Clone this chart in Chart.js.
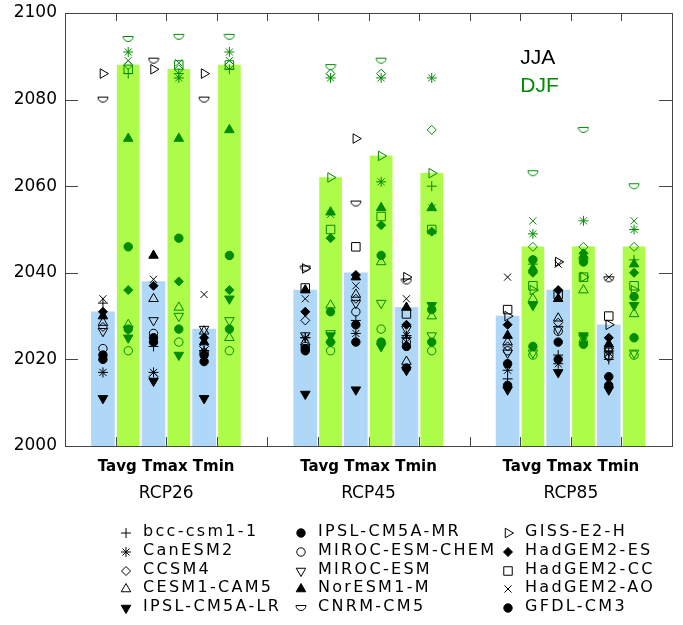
<!DOCTYPE html>
<html>
<head>
<meta charset="utf-8">
<script src="https://cdn.jsdelivr.net/npm/chart.js@4.4.0/dist/chart.umd.min.js"></script>
<style>
  html, body { margin: 0; padding: 0; background: #fff; }
  #wrap { position: relative; width: 683px; height: 625px; }
  #legend { position: absolute; left: 0; top: 0; width: 683px; height: 625px; pointer-events: none;
            font-family: "DejaVu Sans", sans-serif; font-size: 16px; color: #000; }
  .item { position: absolute; white-space: nowrap; line-height: 18px; letter-spacing: 2.3px; }
  .item canvas { position: absolute; left: -25px; top: 3px; }
</style>
</head>
<body>
<div id="wrap">
  <canvas id="chart" width="683" height="625"></canvas>
  <div id="legend"></div>
</div>
<script>
// ===== DATA =====
const scenarios = ["RCP26", "RCP45", "RCP85"];
const variables = ["Tavg", "Tmax", "Tmin"];
const yTicks = [2000, 2020, 2040, 2060, 2080, 2100];

// multi-model bars, order: RCP26 Tavg/Tmax/Tmin, RCP45 ..., RCP85 ...
const jjaBars = [2031, 2038, 2027, 2036, 2040, 2032, 2030, 2036, 2028];
const djfBars = [2088, 2087, 2088, 2062, 2067, 2063, 2046, 2046, 2046];

const modelNames = [
  "bcc-csm1-1", "CanESM2", "CCSM4", "CESM1-CAM5", "IPSL-CM5A-LR",
  "IPSL-CM5A-MR", "MIROC-ESM-CHEM", "MIROC-ESM", "NorESM1-M", "CNRM-CM5",
  "GISS-E2-H", "HadGEM2-ES", "HadGEM2-CC", "HadGEM2-AO", "GFDL-CM3"
];

// per-model years (JJA / DJF), same order as the bars; null = not shown
const jja_bcc     = [2033, 2023, 2022, 2025, 2029, 2025, 2015.5, 2021, 2020];
const djf_bcc     = [2086, 2086, 2087, 2024, 2061, 2060, 2042, 2043, 2043];
const jja_canesm  = [2017, 2017, 2022, 2025, 2026, 2025.5, 2017.5, 2019, 2021.5];
const djf_canesm  = [2091, 2085, 2091, 2085, 2085, 2085, 2049, 2052, 2050];
const jja_ccsm4   = [2027.5, 2016, 2023, 2029, 2034, 2025, 2023, 2028.5, 2020.5];
const djf_ccsm4   = [2088, 2087, 2088, 2086, 2086, 2073, 2046, 2046, 2046];
const jja_cesm    = [2028.5, 2034, 2026.5, 2024, 2035, 2019.5, 2024, 2029.5, 2022.5];
const djf_cesm    = [2028, 2032, 2025, 2032.5, 2042.5, 2030, 2034, 2036, 2030.5];
const jja_ipsllr  = [2011, 2015, 2011, 2012, 2013, 2017.5, 2013, 2017, 2013];
const djf_ipsllr  = [2025, 2021, 2034, 2025.5, 2023, 2032.5, 2032.5, 2025.5, 2032.5];
const jja_ipslmr  = [2021, 2025, 2021, 2022.5, 2028, 2023, 2019, 2024, 2016];
const djf_ipslmr  = [2046, 2048, 2044, 2031, 2044, 2031.5, 2043, 2042.5, 2034.5];
const jja_mirocch = [2022.5, 2026, 2021.5, 2023, 2031, 2024, 2022, 2026.5, 2021];
const djf_mirocch = [2022, 2024, 2022, 2022, 2027, 2022, 2021, 2024, 2021];
const jja_miroc   = [2026.5, 2029, 2027, 2025.5, 2033, 2027, 2021.5, 2027, 2022];
const djf_miroc   = [2027, 2030, 2029, 2026, 2033, 2025.5, 2021.5, 2025, 2021.5];
const jja_noresm  = [2030, 2044, 2024, 2036, 2039, 2032, 2025.5, 2034, 2023.5];
const djf_noresm  = [2071, 2071, 2073, 2054, 2055, 2055, 2041, 2044, 2042];
const jja_cnrm    = [2080, 2089, 2080, 2041, 2056, 2038, null, null, 2038.5];
const djf_cnrm    = [2094, 2094.5, 2094.5, 2087.5, 2089, null, 2063, 2073, 2060];
const jja_giss    = [2086, 2087, 2086, 2041, 2071, 2039, 2030, 2042.5, 2028];
const djf_giss    = [null, null, null, 2062, 2067, 2063, 2036, 2039, 2036];
const jja_hades   = [2031, 2037, 2025, 2031, 2039.5, 2028, 2028, 2036, 2025];
const djf_hades   = [2036, 2038, 2036, 2048, 2051, 2049.5, 2040, 2044.5, 2040];
const jja_hadcc   = [null, null, null, 2036.5, 2046, 2030.5, 2031.5, 2035, 2030];
const djf_hadcc   = [2087, 2088, 2088, 2050, 2053, 2050, 2037, 2039, 2037];
const jja_hadao   = [2034, 2038.5, 2035, 2034, 2037, 2034, 2039, 2042, 2039];
const djf_hadao   = [2089, 2088.5, 2089, 2053.5, 2061, 2055, 2052, null, 2052];
const jja_gfdl    = [2020, 2024, 2019.5, 2022, 2024, 2018, 2014, 2020, 2014];
const djf_gfdl    = [2027, 2027, 2027, 2024, 2024, 2024, 2023, 2023.5, 2025];

const modelJJA = [jja_bcc, jja_canesm, jja_ccsm4, jja_cesm, jja_ipsllr, jja_ipslmr, jja_mirocch,
  jja_miroc, jja_noresm, jja_cnrm, jja_giss, jja_hades, jja_hadcc, jja_hadao, jja_gfdl];
const modelDJF = [djf_bcc, djf_canesm, djf_ccsm4, djf_cesm, djf_ipsllr, djf_ipslmr, djf_mirocch,
  djf_miroc, djf_noresm, djf_cnrm, djf_giss, djf_hades, djf_hadcc, djf_hadao, djf_gfdl];

// ===== STYLE =====
const jjaColor = "#000000";
const djfColor = "#008c00";

const markerStyles = [
  { pointStyle: "cross", radius: 5 },
  { pointStyle: "star", radius: 5 },
  { pointStyle: "rectRot", radius: 4.5 },
  { pointStyle: "triangle", radius: 5.5 },
  { pointStyle: "triangle", radius: 5.5, rotation: 180, filled: true },
  { pointStyle: "circle", radius: 4.2, filled: true },
  { pointStyle: "circle", radius: 4.2 },
  { pointStyle: "triangle", radius: 5.5, rotation: 180 },
  { pointStyle: "triangle", radius: 5.5, filled: true },
  { pointStyle: "bowl", radius: 5 },
  { pointStyle: "triangle", radius: 5.5, rotation: 90 },
  { pointStyle: "rectRot", radius: 4.5, filled: true },
  { pointStyle: "rect", radius: 6 },
  { pointStyle: "crossRot", radius: 5 },
  { pointStyle: "circle", radius: 4.2, filled: true }
];

// half circle, flat side up (CNRM-CM5)
function makeBowl(color) {
  const c = document.createElement("canvas");
  c.width = 12; c.height = 8;
  const g = c.getContext("2d");
  g.strokeStyle = color;
  g.lineWidth = 1;
  g.beginPath();
  g.moveTo(1, 1.5);
  g.lineTo(11, 1.5);
  g.arc(6, 1.5, 5, 0, Math.PI);
  g.stroke();
  return c;
}

// bar slot on the x axis: 1,2,3 | 5,6,7 | 9,10,11
function slotX(i) { return Math.floor(i / 3) * 4 + (i % 3) + 1; }

const datasets = [
  { type: "bar", label: "JJA", data: jjaBars.map((v, i) => ({ x: slotX(i) - 0.25, y: v })),
    backgroundColor: "#afd7f7", barThickness: 23, grouped: false, order: 2 },
  { type: "bar", label: "DJF", data: djfBars.map((v, i) => ({ x: slotX(i) + 0.25, y: v })),
    backgroundColor: "#adfc4a", barThickness: 22, grouped: false, order: 2 }
];

modelNames.forEach((name, m) => {
  const st = markerStyles[m];
  [["JJA", modelJJA[m], jjaColor, -0.25], ["DJF", modelDJF[m], djfColor, 0.25]].forEach(([season, vals, color, off]) => {
    datasets.push({
      type: "scatter",
      label: name + " " + season,
      data: vals.map((v, i) => v == null ? null : { x: slotX(i) + off, y: v }).filter(Boolean),
      pointStyle: st.pointStyle === "bowl" ? makeBowl(color) : st.pointStyle,
      pointRadius: st.radius,
      pointRotation: st.rotation || 0,
      pointBorderColor: color,
      pointBackgroundColor: st.filled ? color : "rgba(0,0,0,0)",
      pointBorderWidth: 1,
      order: 1
    });
  });
});

/* ===== FRAME, INWARD TICKS, SEASON LABELS ===== */
const framePlugin = {
  id: "frame",
  beforeDatasetsDraw(chart) {
    const { ctx, chartArea: a, scales: { x, y } } = chart;
    ctx.save();
    ctx.strokeStyle = "#444";
    ctx.lineWidth = 1;
    ctx.beginPath();
    for (let i = 1; i < 12; i++) {
      const px = Math.round(x.getPixelForValue(i)) + 0.5;
      ctx.moveTo(px, a.top); ctx.lineTo(px, a.top + 8);
      ctx.moveTo(px, a.bottom); ctx.lineTo(px, a.bottom - 9);
    }
    yTicks.slice(1, -1).forEach(v => {
      const py = Math.round(y.getPixelForValue(v)) + 0.5;
      ctx.moveTo(a.left, py); ctx.lineTo(a.left + 13, py);
      ctx.moveTo(a.right, py); ctx.lineTo(a.right - 13, py);
    });
    ctx.stroke();
    ctx.restore();
  },
  afterDatasetsDraw(chart) {
    const { ctx, chartArea: a, scales: { x, y } } = chart;
    ctx.save();
    ctx.strokeStyle = "#444";
    ctx.lineWidth = 1;
    ctx.strokeRect(Math.round(a.left) + 0.5, Math.round(a.top) + 0.5,
      Math.round(a.right - a.left), Math.round(a.bottom - a.top));
    ctx.font = "21px 'Liberation Sans'";
    ctx.textBaseline = "middle";
    ctx.fillStyle = jjaColor;
    ctx.fillText("JJA", x.getPixelForValue(9), y.getPixelForValue(2089.5));
    ctx.fillStyle = djfColor;
    ctx.fillText("DJF", x.getPixelForValue(9), y.getPixelForValue(2083));
    ctx.restore();
  }
};

const groupTicks = (scale) => { scale.ticks = [2, 6, 10].map(v => ({ value: v })); };

new Chart(document.getElementById("chart"), {
  type: "bar",
  data: { datasets },
  options: {
    responsive: false,
    animation: false,
    layout: { padding: { top: 13, right: 11, bottom: 114, left: 0 } },
    plugins: { legend: { display: false }, tooltip: { enabled: false } },
    scales: {
      x: {
        type: "linear", min: 0, max: 12, offset: false, weight: 0,
        grid: { display: false, drawTicks: false }, border: { display: false },
        afterBuildTicks: groupTicks,
        afterFit: (s) => { s.height = 35; },
        ticks: {
          padding: 12, color: "#000", maxRotation: 0, autoSkip: false,
          font: { family: "DejaVu Sans", size: 15, weight: "bold" },
          callback: () => variables.join(" ")
        }
      },
      x2: {
        type: "linear", min: 0, max: 12, position: "bottom", offset: false, weight: 1,
        grid: { display: false, drawTicks: false }, border: { display: false },
        afterBuildTicks: groupTicks,
        afterFit: (s) => { s.height = 30; },
        ticks: {
          padding: 2, color: "#000", maxRotation: 0, autoSkip: false,
          font: { family: "DejaVu Sans", size: 17 },
          callback: (v) => scenarios[[2, 6, 10].indexOf(v)]
        }
      },
      y: {
        min: 2000, max: 2100,
        grid: { display: false, drawTicks: false }, border: { display: false },
        afterBuildTicks: (scale) => { scale.ticks = yTicks.map(v => ({ value: v })); },
        afterFit: (s) => { s.width = 65; s.paddingTop = 0; s.paddingBottom = 0; },
        ticks: { padding: 8, color: "#000", font: { family: "DejaVu Sans", size: 17 },
                 callback: (v) => String(v) }
      }
    }
  },
  plugins: [framePlugin]
});

/* ===== LEGEND ===== */
const legendLeft = [143, 318, 525];
const legendTop = 522;
const legendRow = 18.8;

function drawSymbol(canvas, st) {
  const g = canvas.getContext("2d");
  g.strokeStyle = jjaColor;
  g.fillStyle = st.filled ? jjaColor : "rgba(0,0,0,0)";
  g.lineWidth = 1;
  const cx = canvas.width / 2, cy = canvas.height / 2;
  const style = st.pointStyle === "bowl" ? makeBowl(jjaColor) : st.pointStyle;
  Chart.helpers.drawPoint(g, { pointStyle: style, radius: st.radius, rotation: st.rotation || 0, borderWidth: 1 }, cx, cy);
}

const legend = document.getElementById("legend");
modelNames.forEach((name, m) => {
  const col = Math.floor(m / 5), row = m % 5;
  const item = document.createElement("div");
  item.className = "item";
  item.style.left = legendLeft[col] + "px";
  item.style.top = (legendTop + row * legendRow) + "px";
  const c = document.createElement("canvas");
  c.width = 16; c.height = 16;
  item.appendChild(c);
  item.appendChild(document.createTextNode(name));
  legend.appendChild(item);
  drawSymbol(c, markerStyles[m]);
});
</script>
</body>
</html>
